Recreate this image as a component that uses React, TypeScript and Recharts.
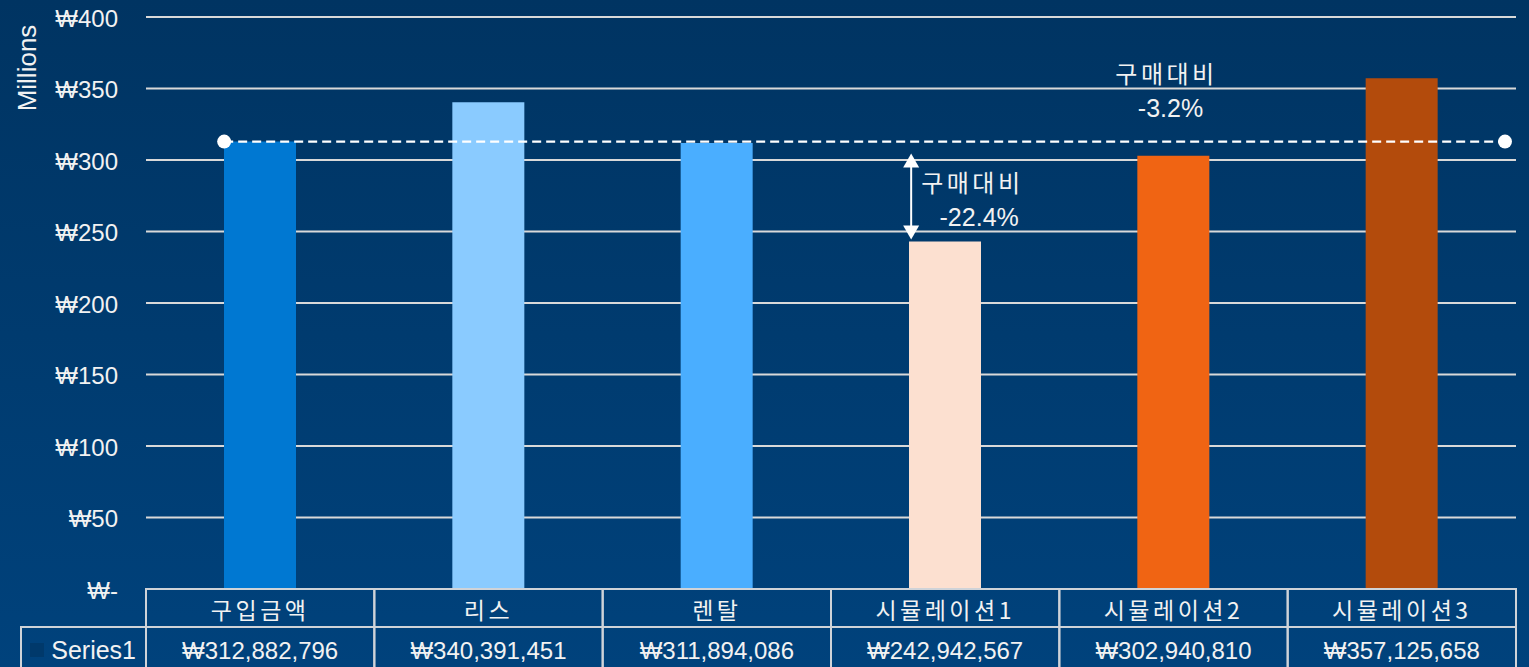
import React from 'react'
import { BarChart, Bar, XAxis, YAxis, CartesianGrid, ReferenceLine, ReferenceDot, Cell } from 'recharts'

const categories = ['구입금액', '리스', '렌탈', '시뮬레이션1', '시뮬레이션2', '시뮬레이션3']
const amounts = [312882796, 340391451, 311894086, 242942567, 302940810, 357125658]
const seriesName = 'Series1'
const yTicks = [0, 50, 100, 150, 200, 250, 300, 350, 400]
const barColors = ['#0078d2', '#8acbff', '#4aaeff', '#fce0d0', '#f06413', '#b34b0c']

const data = categories.map((name, i) => ({ name, value: amounts[i] / 1e6 }))
const base = data[0].value
const pct = (v: number) => `${(((v / base) - 1) * 100).toFixed(1)}%`

const W = 1529
const H = 667
const xAxisHeight = 78
const margin = { top: 17, right: 13, bottom: 0, left: 0 }
const yAxisWidth = 146
const barSize = 72
const bandWidth = (W - yAxisWidth - margin.right - margin.left) / categories.length
const tableTop = H - xAxisHeight
const rowH = 38

const latin = '"Liberation Sans", Arial, sans-serif'
const korean = '"Noto Sans CJK KR", "Noto Sans", sans-serif'
const border = '#cfd3d8'
const textColor = '#f2f2f2'

const won = (n: number) => '₩' + n.toLocaleString('en-US')

function YTick(props: any) {
  const { y, payload } = props
  const label = payload.value === 0 ? '₩-' : `₩${payload.value}`
  return (
    <text x={yAxisWidth - 28} y={y + 1} textAnchor="end" dominantBaseline="central"
      fill={textColor} fontSize={24} fontFamily={latin}>
      {label}
    </text>
  )
}

function TableTick(props: any) {
  const { x, payload, index } = props
  const left = x - bandWidth / 2
  return (
    <g>
      <rect x={left} y={tableTop} width={bandWidth} height={rowH} fill="none" stroke={border} strokeWidth={2} />
      <rect x={left} y={tableTop + rowH} width={bandWidth} height={60} fill="none" stroke={border} strokeWidth={2} />
      <text x={x} y={tableTop + rowH / 2 + 1} textAnchor="middle" dominantBaseline="central"
        fill={textColor} fontSize={23} letterSpacing={3.5} fontFamily={korean}>
        {payload.value}
      </text>
      <text x={x} y={tableTop + rowH + 23} textAnchor="middle" dominantBaseline="central"
        fill={textColor} fontSize={24} fontFamily={latin}>
        {won(amounts[index])}
      </text>
      {index === 0 && (
        <g>
          <rect x={left - 125} y={tableTop + rowH} width={125} height={60} fill="none" stroke={border} strokeWidth={2} />
          <rect x={left - 116} y={tableTop + rowH + 16} width={14} height={14} fill="#00396b" />
          <text x={left - 10} y={tableTop + rowH + 23} textAnchor="end" dominantBaseline="central"
            fill={textColor} fontSize={25} fontFamily={latin}>
            {seriesName}
          </text>
        </g>
      )}
    </g>
  )
}

function BaseLine(props: any) {
  const { x1, x2, y1 } = props
  const start = x1 + bandWidth / 2 - barSize / 2
  const end = x2 - 11
  return (
    <g>
      <line x1={start} x2={end} y1={y1} y2={y1} stroke="#ffffff" strokeWidth={2.2} strokeDasharray="9 5" />
      <circle cx={start} cy={y1} r={7} fill="#ffffff" />
      <circle cx={end} cy={y1} r={7} fill="#ffffff" />
    </g>
  )
}

function DiffArrow(props: any) {
  const { x1, y1, y2 } = props
  const ax = x1 - barSize / 2 + 2
  const top = y1 + 12
  const bottom = y2 - 2
  return (
    <g>
      <line x1={ax} x2={ax} y1={top + 12} y2={bottom - 12} stroke="#ffffff" strokeWidth={2} />
      <polygon points={`${ax},${top} ${ax - 8},${top + 14} ${ax + 8},${top + 14}`} fill="#ffffff" />
      <polygon points={`${ax},${bottom} ${ax - 8},${bottom - 14} ${ax + 8},${bottom - 14}`} fill="#ffffff" />
      <text x={ax + 10} y={y1 + 40} dominantBaseline="central" fill={textColor}
        fontSize={24} letterSpacing={3.5} fontFamily={korean}>구매대비</text>
      <text x={ax + 68} y={y1 + 75} textAnchor="middle" dominantBaseline="central" fill={textColor}
        fontSize={25} fontFamily={latin}>{pct(data[3].value)}</text>
    </g>
  )
}

function DiffLabel(props: any) {
  const { cx, cy } = props
  return (
    <g>
      <text x={cx - 7} y={cy - 69} textAnchor="middle" dominantBaseline="central" fill={textColor}
        fontSize={24} letterSpacing={3.5} fontFamily={korean}>구매대비</text>
      <text x={cx - 3} y={cy - 34} textAnchor="middle" dominantBaseline="central" fill={textColor}
        fontSize={25} fontFamily={latin}>{pct(data[4].value)}</text>
    </g>
  )
}

export default function App() {
  return (
    <div style={{
      position: 'fixed', left: 0, top: 0, width: W, height: H, overflow: 'hidden',
      background: 'linear-gradient(180deg, #003462 0%, #00427c 100%)'
    }}>
      <BarChart width={W} height={H} data={data} margin={margin}>
        <CartesianGrid vertical={false} stroke="#d9d9d9" strokeWidth={2} />
        <XAxis dataKey="name" height={xAxisHeight} axisLine={false} tickLine={false}
          interval={0} tick={<TableTick />} />
        <YAxis width={yAxisWidth} domain={[0, 400]} ticks={yTicks} axisLine={false} tickLine={false}
          tick={<YTick />}
          label={{
            content: () => (
              <text x={27} y={68} transform="rotate(-90 27 68)" textAnchor="middle"
                dominantBaseline="central" fill={textColor} fontSize={26} fontFamily={latin}>
                Millions
              </text>
            )
          }} />
        <Bar dataKey="value" barSize={barSize} isAnimationActive={false}>
          {data.map((d, i) => (
            <Cell key={d.name} fill={barColors[i]} />
          ))}
        </Bar>
        <ReferenceLine y={base} shape={<BaseLine />} />
        <ReferenceLine segment={[{ x: categories[3], y: base }, { x: categories[3], y: data[3].value }]}
          shape={<DiffArrow />} />
        <ReferenceDot x={categories[4]} y={base} r={0} shape={<DiffLabel />} />
      </BarChart>
    </div>
  )
}
